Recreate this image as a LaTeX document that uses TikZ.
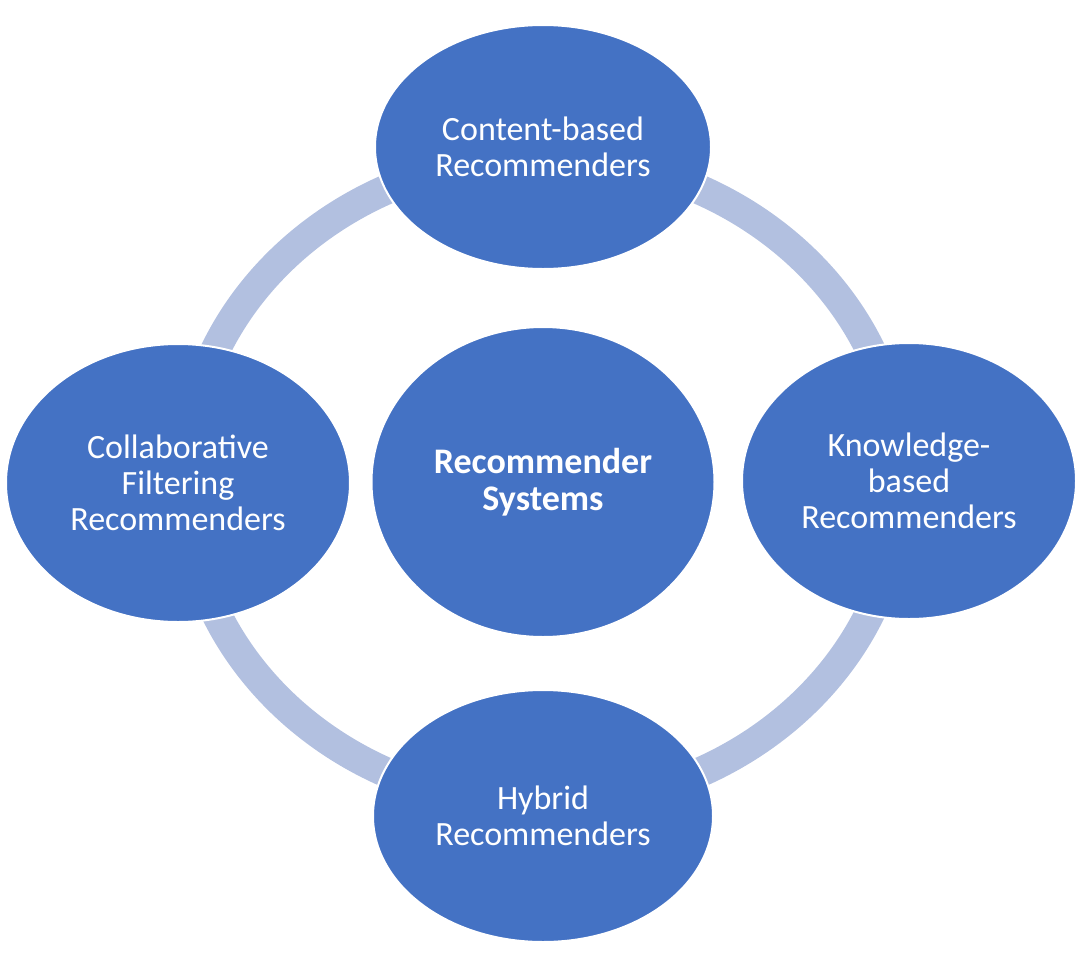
\documentclass[tikz,border=0pt]{standalone}
\usepackage{fontspec}
\setmainfont{Carlito}
\usetikzlibrary{shapes.geometric}
\definecolor{nodeblue}{RGB}{68,114,196}
\definecolor{ringblue}{RGB}{178,192,224}
\tikzset{
  bubble/.style={ellipse, fill=nodeblue, draw=white, line width=2pt, inner sep=0pt,
    align=center, text=white, font=\fontsize{34}{36}\selectfont},
  ringline/.style={draw=ringblue, line width=30pt}
}
\begin{document}
\begin{tikzpicture}[x=1pt,y=-1pt]
\useasboundingbox (0,0) rectangle (1080,975);
\coordinate (ringc) at (543,481);
\draw[ringline] (ringc) ellipse [x radius=358pt, y radius=324pt];
\node[bubble, minimum width=336pt, minimum height=244pt] (content) at (543,147) {Content-based\\Recommenders};
\node[bubble, minimum width=344pt, minimum height=278pt] (collab) at (178,483) {Collaborative\\Filtering\\Recommenders};
\node[bubble, minimum width=334pt, minimum height=276pt] (know) at (909,481) {Knowledge-\\based\\Recommenders};
\node[bubble, minimum width=340pt, minimum height=252pt] (hybrid) at (543,816) {Hybrid\\Recommenders};
\node[bubble, minimum width=343pt, minimum height=310pt, font=\fontsize{36}{37}\selectfont\bfseries] (center) at (543,482) {Recommender\\Systems};
\end{tikzpicture}
\end{document}
